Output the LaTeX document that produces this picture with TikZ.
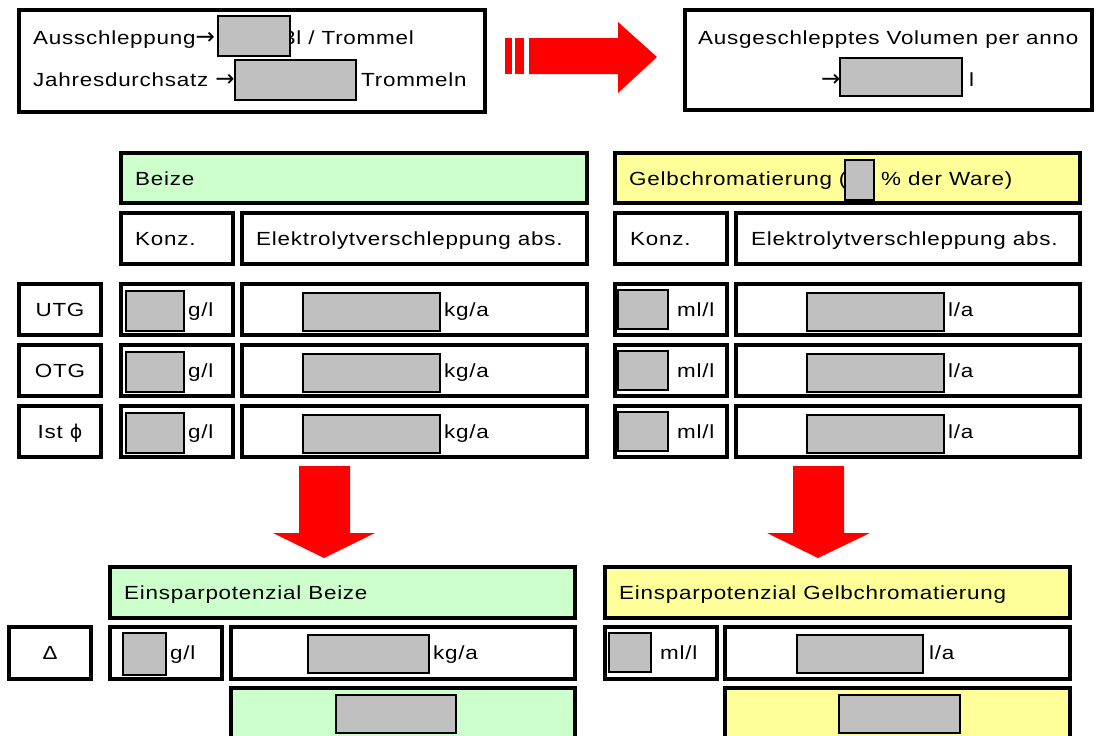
\documentclass[tikz,border=0pt]{standalone}
\usepackage{fontspec}
\setmainfont{Liberation Sans}[FakeStretch=1.18,LetterSpace=4]
\newfontfamily\symfont{DejaVu Sans}
\definecolor{lgreen}{HTML}{CCFFCC}
\definecolor{lyellow}{HTML}{FFFF99}
\definecolor{lgray}{HTML}{C0C0C0}
\definecolor{bred}{HTML}{FF0000}
\newcommand{\mycell}[6]{\node[cell, fill=#6, minimum width=(#4)-(#2), minimum height=(#5)-(#3)] (#1) at (#2,#3) {};}
\newcommand{\mygray}[5]{\node[graybox, minimum width=(#4)-(#2), minimum height=(#5)-(#3)] (#1) at (#2,#3) {};}
\newcommand{\rarr}{{\symfont\fontsize{23}{23}\selectfont →}}
\begin{document}
\begin{tikzpicture}[x=1pt,y=-1pt,
  cell/.style={draw=black, line width=3.4pt, inner sep=0pt, outer sep=0pt, anchor=north west},
  graybox/.style={draw=black, line width=1.8pt, fill=lgray, inner sep=0pt, outer sep=0pt, anchor=north west},
  txt/.style={inner sep=0pt, anchor=base west, font=\fontsize{19}{23}\selectfont},
  ctxt/.style={inner sep=0pt, anchor=base, font=\fontsize{19}{23}\selectfont},
  redarrow/.style={fill=bred, draw=none}]
\useasboundingbox[fill=white] (0,0) rectangle (1098,736);

% ---------- top row ----------
\mycell{inbox}{19}{10}{485}{112}{white}
\node[txt] (t1) at (33,44) {Ausschleppung\rarr};
\node[txt] (t1u) at (283,44) {3l / Trommel};
\mygray{g1}{218}{16}{290}{56}
\node[txt] (t2) at (33,86) {Jahresdurchsatz \rarr};
\mygray{g2}{235}{60}{356}{100}
\node[txt] (t2u) at (361,86) {Trommeln};

\fill[redarrow] (505,38) rectangle (512,74);
\fill[redarrow] (515,38) rectangle (524,74);
\fill[redarrow] (529,38) -- (618,38) -- (618,22) -- (657,57) -- (618,93) -- (618,74) -- (529,74) -- cycle;

\mycell{outbox}{685}{10}{1092}{110}{white}
\node[txt] (t3) at (698,44) {Ausgeschlepptes Volumen per anno};
\node[txt] (t3a) at (821,86) {\rarr};
\mygray{g3}{840}{58}{962}{96}
\node[txt] (t3u) at (969,86) {l};

% ---------- headers ----------
\mycell{hb}{121}{153}{587}{203}{lgreen}
\node[txt] at (135,185) {Beize};
\mycell{hg}{615}{153}{1080}{203}{lyellow}
\node[txt] at (629,185) {Gelbchromatierung (};
\mygray{gp}{845}{160}{874}{200}
\node[txt] at (881,185) {\% der Ware)};

\mycell{kb}{121}{213}{233}{264}{white}
\node[txt] at (135,245) {Konz.};
\mycell{eb}{242}{213}{587}{264}{white}
\node[txt] at (256,245) {Elektrolytverschleppung abs.};
\mycell{kg}{615}{213}{727}{264}{white}
\node[txt] at (630,245) {Konz.};
\mycell{eg}{736}{213}{1080}{264}{white}
\node[txt] at (751,245) {Elektrolytverschleppung abs.};

% ---------- data rows ----------
\foreach \n/\lab/\y in {u/UTG/284, o/OTG/345, i/Ist {\symfont ϕ}/406}{
  \mycell{l\n}{19}{\y}{101}{\y+51}{white}
  \node[ctxt] at (60,\y+32) {\lab};
  \mycell{cb\n}{121}{\y}{233}{\y+51}{white}
  \mygray{gcb\n}{126}{\y+7}{184}{\y+47}
  \node[txt] at (188,\y+32) {g/l};
  \mycell{ab\n}{242}{\y}{587}{\y+51}{white}
  \mygray{gab\n}{303}{\y+9}{440}{\y+47}
  \node[txt] at (444,\y+32) {kg/a};
  \mycell{cg\n}{615}{\y}{727}{\y+51}{white}
  \mygray{gcg\n}{618}{\y+6}{668}{\y+45}
  \node[txt] at (677,\y+32) {ml/l};
  \mycell{ag\n}{736}{\y}{1080}{\y+51}{white}
  \mygray{gag\n}{807}{\y+9}{944}{\y+47}
  \node[txt] at (948,\y+32) {l/a};
}

% ---------- down arrows ----------
\fill[redarrow] (299,466) -- (350,466) -- (350,533) -- (375,533) -- (324,558) -- (273,533) -- (299,533) -- cycle;
\fill[redarrow] (793,466) -- (844,466) -- (844,533) -- (870,533) -- (818,558) -- (767,533) -- (793,533) -- cycle;

% ---------- savings ----------
\mycell{sb}{110}{567}{575}{618}{lgreen}
\node[txt] at (124,599) {Einsparpotenzial Beize};
\mycell{sg}{605}{567}{1070}{618}{lyellow}
\node[txt] at (619,599) {Einsparpotenzial Gelbchromatierung};

\mycell{dl}{9}{627}{91}{679}{white}
\node[ctxt] at (50,659) {Δ};
\mycell{dcb}{110}{627}{222}{679}{white}
\mygray{dgcb}{123}{633}{166}{675}
\node[txt] at (170,659) {g/l};
\mycell{dab}{231}{627}{575}{679}{white}
\mygray{dgab}{308}{635}{429}{673}
\node[txt] at (433,659) {kg/a};
\mycell{dcg}{605}{627}{717}{679}{white}
\mygray{dgcg}{609}{633}{651}{672}
\node[txt] at (660,659) {ml/l};
\mycell{dag}{725}{627}{1070}{679}{white}
\mygray{dgag}{797}{635}{923}{673}
\node[txt] at (929,659) {l/a};

\mycell{tb}{231}{688}{575}{745}{lgreen}
\mygray{tgb}{336}{695}{456}{733}
\mycell{tg}{725}{688}{1070}{745}{lyellow}
\mygray{tgg}{839}{695}{960}{733}
\end{tikzpicture}
\end{document}
